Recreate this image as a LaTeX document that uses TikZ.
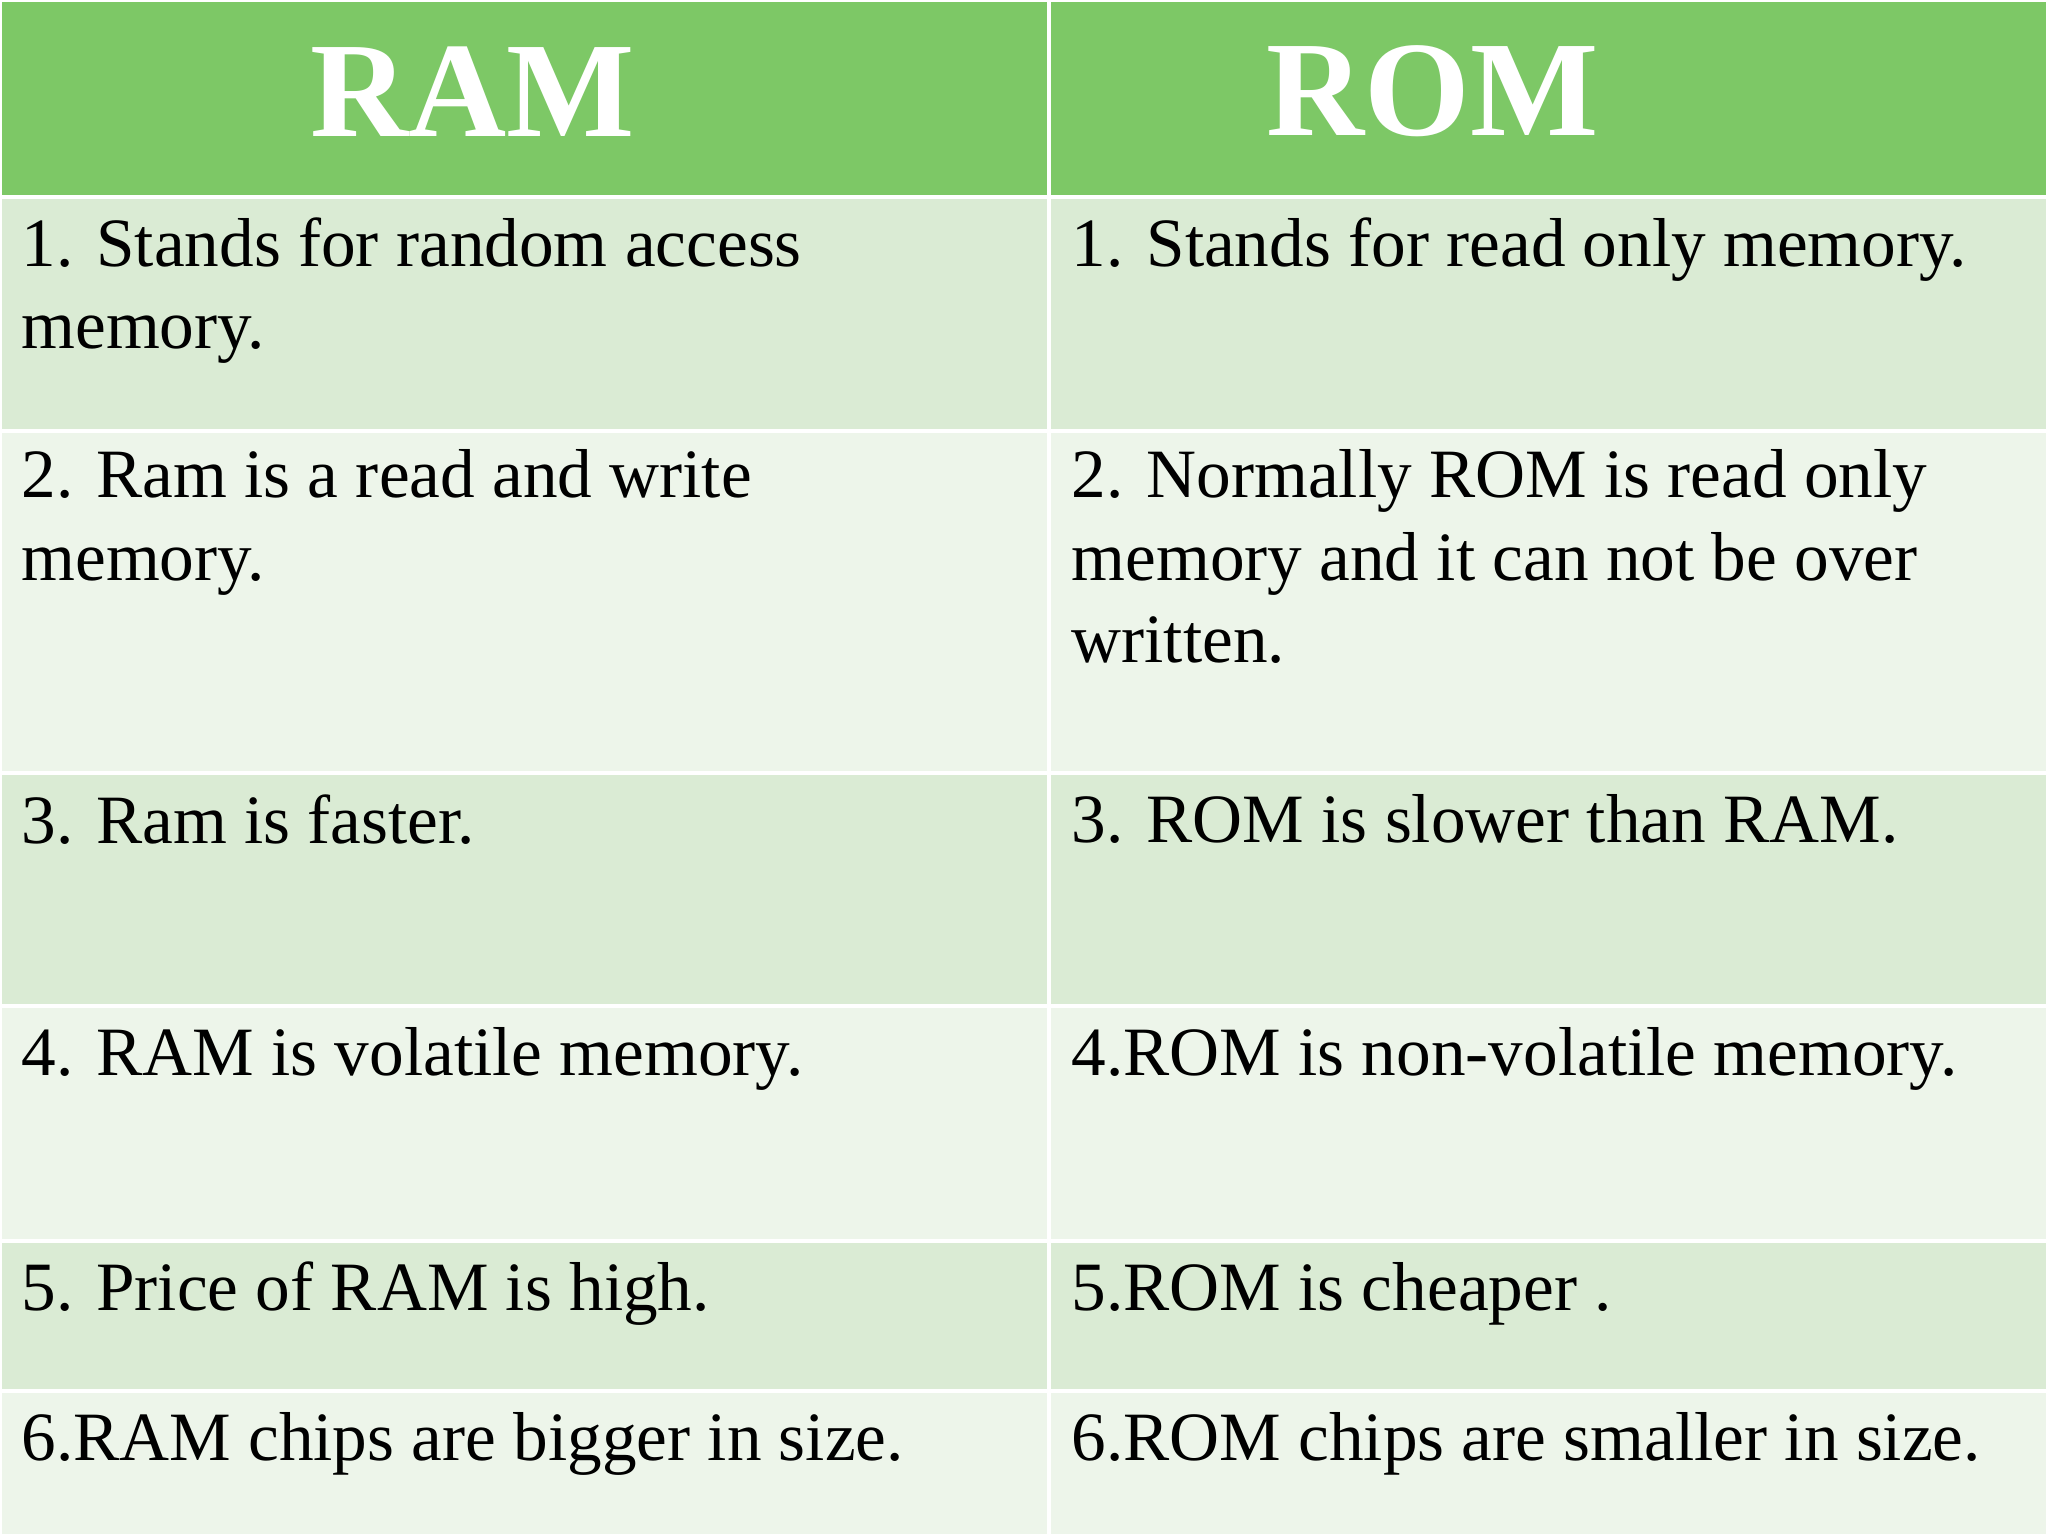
\documentclass[tikz,border=0pt]{standalone}
\usepackage{fontspec}
\setmainfont{Liberation Serif}
\definecolor{hdr}{HTML}{7DC866}
\definecolor{rowA}{HTML}{DAEBD4}
\definecolor{rowB}{HTML}{EDF5EA}
\begin{document}
\begin{tikzpicture}[x=0.5pt,y=-0.5pt,
  cell/.style={draw=white,line width=1.5pt},
  txt/.style={anchor=north west,inner sep=0pt,font=\fontsize{26.5}{31.5}\selectfont,align=left},
  hd/.style={anchor=center,text=white,font=\fontsize{52}{52}\selectfont\bfseries}]
\useasboundingbox (0,0) rectangle (1568,1176);
\fill[white] (0,0) rectangle (1568,1176);
\foreach \a/\b/\c in {0/151/hdr,151/330/rowA,330/592/rowB,592/770/rowA,770/950/rowB,950/1065/rowA,1065/1176/rowB}{
  \filldraw[cell,fill=\c] (0,\a) rectangle (803,\b);
  \filldraw[cell,fill=\c] (803,\a) rectangle (1568,\b);
}
\node[hd] (h1) at (362,70) {RAM};
\node[hd] (h2) at (1097,70) {ROM};
\node[txt] (l1) at (16,166) {1. Stands for random access\\memory.};
\node[txt] (r1) at (820,166) {1. Stands for read only memory.};
\node[txt] (l2) at (16,344) {2. Ram is a read and write\\memory.};
\node[txt] (r2) at (820,344) {2. Normally ROM is read only\\memory and it can not be over\\written.};
\node[txt] (l3) at (16,608) {3. Ram is faster.};
\node[txt] (r3) at (820,608) {3. ROM is slower than RAM.};
\node[txt] (l4) at (16,786) {4. RAM is volatile memory.};
\node[txt] (r4) at (820,786) {4.ROM is non-volatile memory.};
\node[txt] (l5) at (16,966) {5. Price of RAM is high.};
\node[txt] (r5) at (820,966) {5.ROM is cheaper .};
\node[txt] (l6) at (16,1081) {6.RAM chips are bigger in size.};
\node[txt] (r6) at (820,1081) {6.ROM chips are smaller in size.};
\end{tikzpicture}
\end{document}
